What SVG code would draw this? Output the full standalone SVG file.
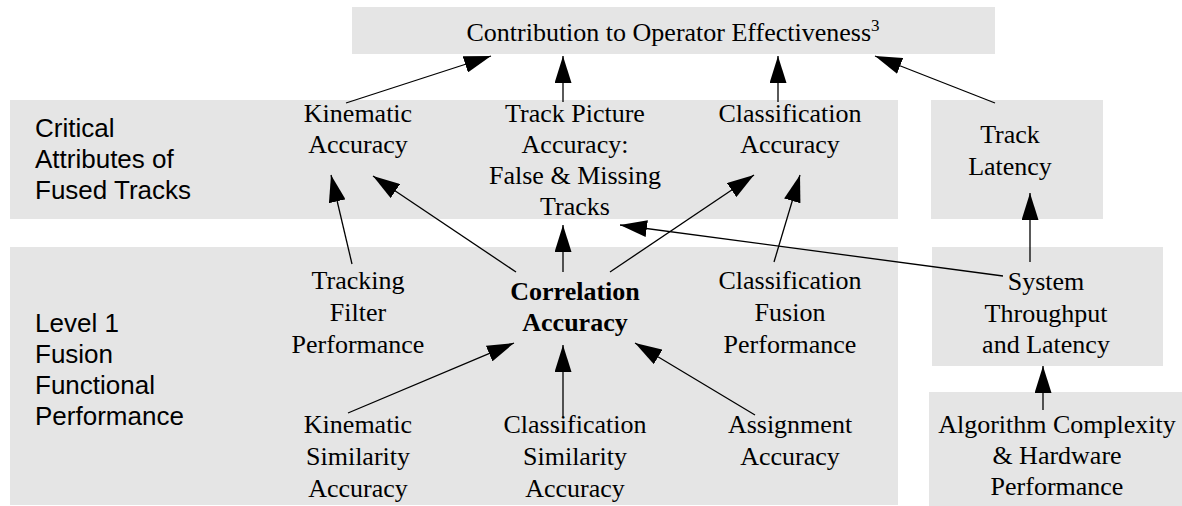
<svg xmlns="http://www.w3.org/2000/svg" width="1182" height="506" viewBox="0 0 1182 506">
<style>
.box{fill:#e5e5e5;stroke:none}
.t{font-family:"Liberation Serif","Times New Roman",serif;font-size:26px;fill:#000;text-anchor:middle}
.b{font-weight:bold}
.s{font-family:"Liberation Sans",Arial,sans-serif;font-size:26px;fill:#000}
.c{stroke:#000;stroke-width:1.3;fill:none;marker-end:url(#ah)}
</style>
<defs>
<marker id="ah" markerUnits="userSpaceOnUse" markerWidth="27" markerHeight="17" refX="27" refY="8.5" orient="auto" viewBox="0 0 27 17">
<path d="M0,0 L27,8.5 L0,17 z" fill="#000"/>
</marker>
</defs>
<g id="bands">
<rect class="box" x="352" y="7" width="643" height="47"/>
<rect class="box" x="10" y="100" width="888" height="119"/>
<rect class="box" x="931" y="100" width="172" height="119"/>
<rect class="box" x="10" y="247" width="888" height="258"/>
<rect class="box" x="932" y="247" width="231" height="119"/>
<rect class="box" x="929" y="392" width="253" height="114"/>
</g>
<g id="title"><text class="t" x="673" y="41">Contribution to Operator Effectiveness<tspan font-size="17" dy="-10">3</tspan></text></g>
<g id="label-critical"><text class="s"><tspan x="35" y="137">Critical</tspan><tspan x="35" y="168">Attributes of</tspan><tspan x="35" y="199">Fused Tracks</tspan></text></g>
<g id="label-level1"><text class="s"><tspan x="35" y="332">Level 1</tspan><tspan x="35" y="363">Fusion</tspan><tspan x="35" y="394">Functional</tspan><tspan x="35" y="425">Performance</tspan></text></g>
<g id="kinematic-accuracy"><text class="t"><tspan x="358" y="122">Kinematic</tspan><tspan x="358" y="153">Accuracy</tspan></text></g>
<g id="track-picture"><text class="t"><tspan x="575" y="122">Track Picture</tspan><tspan x="575" y="153">Accuracy:</tspan><tspan x="575" y="184">False &amp; Missing</tspan><tspan x="575" y="215">Tracks</tspan></text></g>
<g id="classification-accuracy"><text class="t"><tspan x="790" y="122">Classification</tspan><tspan x="790" y="153">Accuracy</tspan></text></g>
<g id="track-latency"><text class="t"><tspan x="1010" y="143">Track</tspan><tspan x="1010" y="175">Latency</tspan></text></g>
<g id="tracking-filter"><text class="t"><tspan x="358" y="289">Tracking</tspan><tspan x="358" y="321">Filter</tspan><tspan x="358" y="353">Performance</tspan></text></g>
<g id="correlation"><text class="t b"><tspan x="575" y="300">Correlation</tspan><tspan x="575" y="331">Accuracy</tspan></text></g>
<g id="classification-fusion"><text class="t"><tspan x="790" y="289">Classification</tspan><tspan x="790" y="321">Fusion</tspan><tspan x="790" y="353">Performance</tspan></text></g>
<g id="system-throughput"><text class="t"><tspan x="1046" y="290">System</tspan><tspan x="1046" y="322">Throughput</tspan><tspan x="1046" y="353">and Latency</tspan></text></g>
<g id="kinematic-similarity"><text class="t"><tspan x="358" y="433">Kinematic</tspan><tspan x="358" y="465">Similarity</tspan><tspan x="358" y="497">Accuracy</tspan></text></g>
<g id="classification-similarity"><text class="t"><tspan x="575" y="433">Classification</tspan><tspan x="575" y="465">Similarity</tspan><tspan x="575" y="497">Accuracy</tspan></text></g>
<g id="assignment"><text class="t"><tspan x="790" y="433">Assignment</tspan><tspan x="790" y="465">Accuracy</tspan></text></g>
<g id="algorithm"><text class="t"><tspan x="1057" y="433">Algorithm Complexity</tspan><tspan x="1057" y="464">&amp; Hardware</tspan><tspan x="1057" y="495">Performance</tspan></text></g>
<g id="connectors">
<line class="c" x1="346" y1="103" x2="491" y2="56"/>
<line class="c" x1="563" y1="102" x2="563" y2="56"/>
<line class="c" x1="778" y1="102" x2="778" y2="56"/>
<line class="c" x1="995" y1="103" x2="875" y2="56"/>
<line class="c" x1="352" y1="264" x2="331" y2="175"/>
<line class="c" x1="516" y1="272" x2="373" y2="176"/>
<line class="c" x1="563" y1="272" x2="563" y2="225"/>
<line class="c" x1="610" y1="272" x2="754" y2="175"/>
<line class="c" x1="774" y1="262" x2="800" y2="175"/>
<line class="c" x1="1003" y1="276" x2="620" y2="225"/>
<line class="c" x1="1030" y1="262" x2="1030" y2="193"/>
<line class="c" x1="348" y1="413" x2="514" y2="343"/>
<line class="c" x1="563" y1="417" x2="563" y2="345"/>
<line class="c" x1="755" y1="415" x2="635" y2="343"/>
<line class="c" x1="1043" y1="410" x2="1043" y2="366"/>
</g>
</svg>
